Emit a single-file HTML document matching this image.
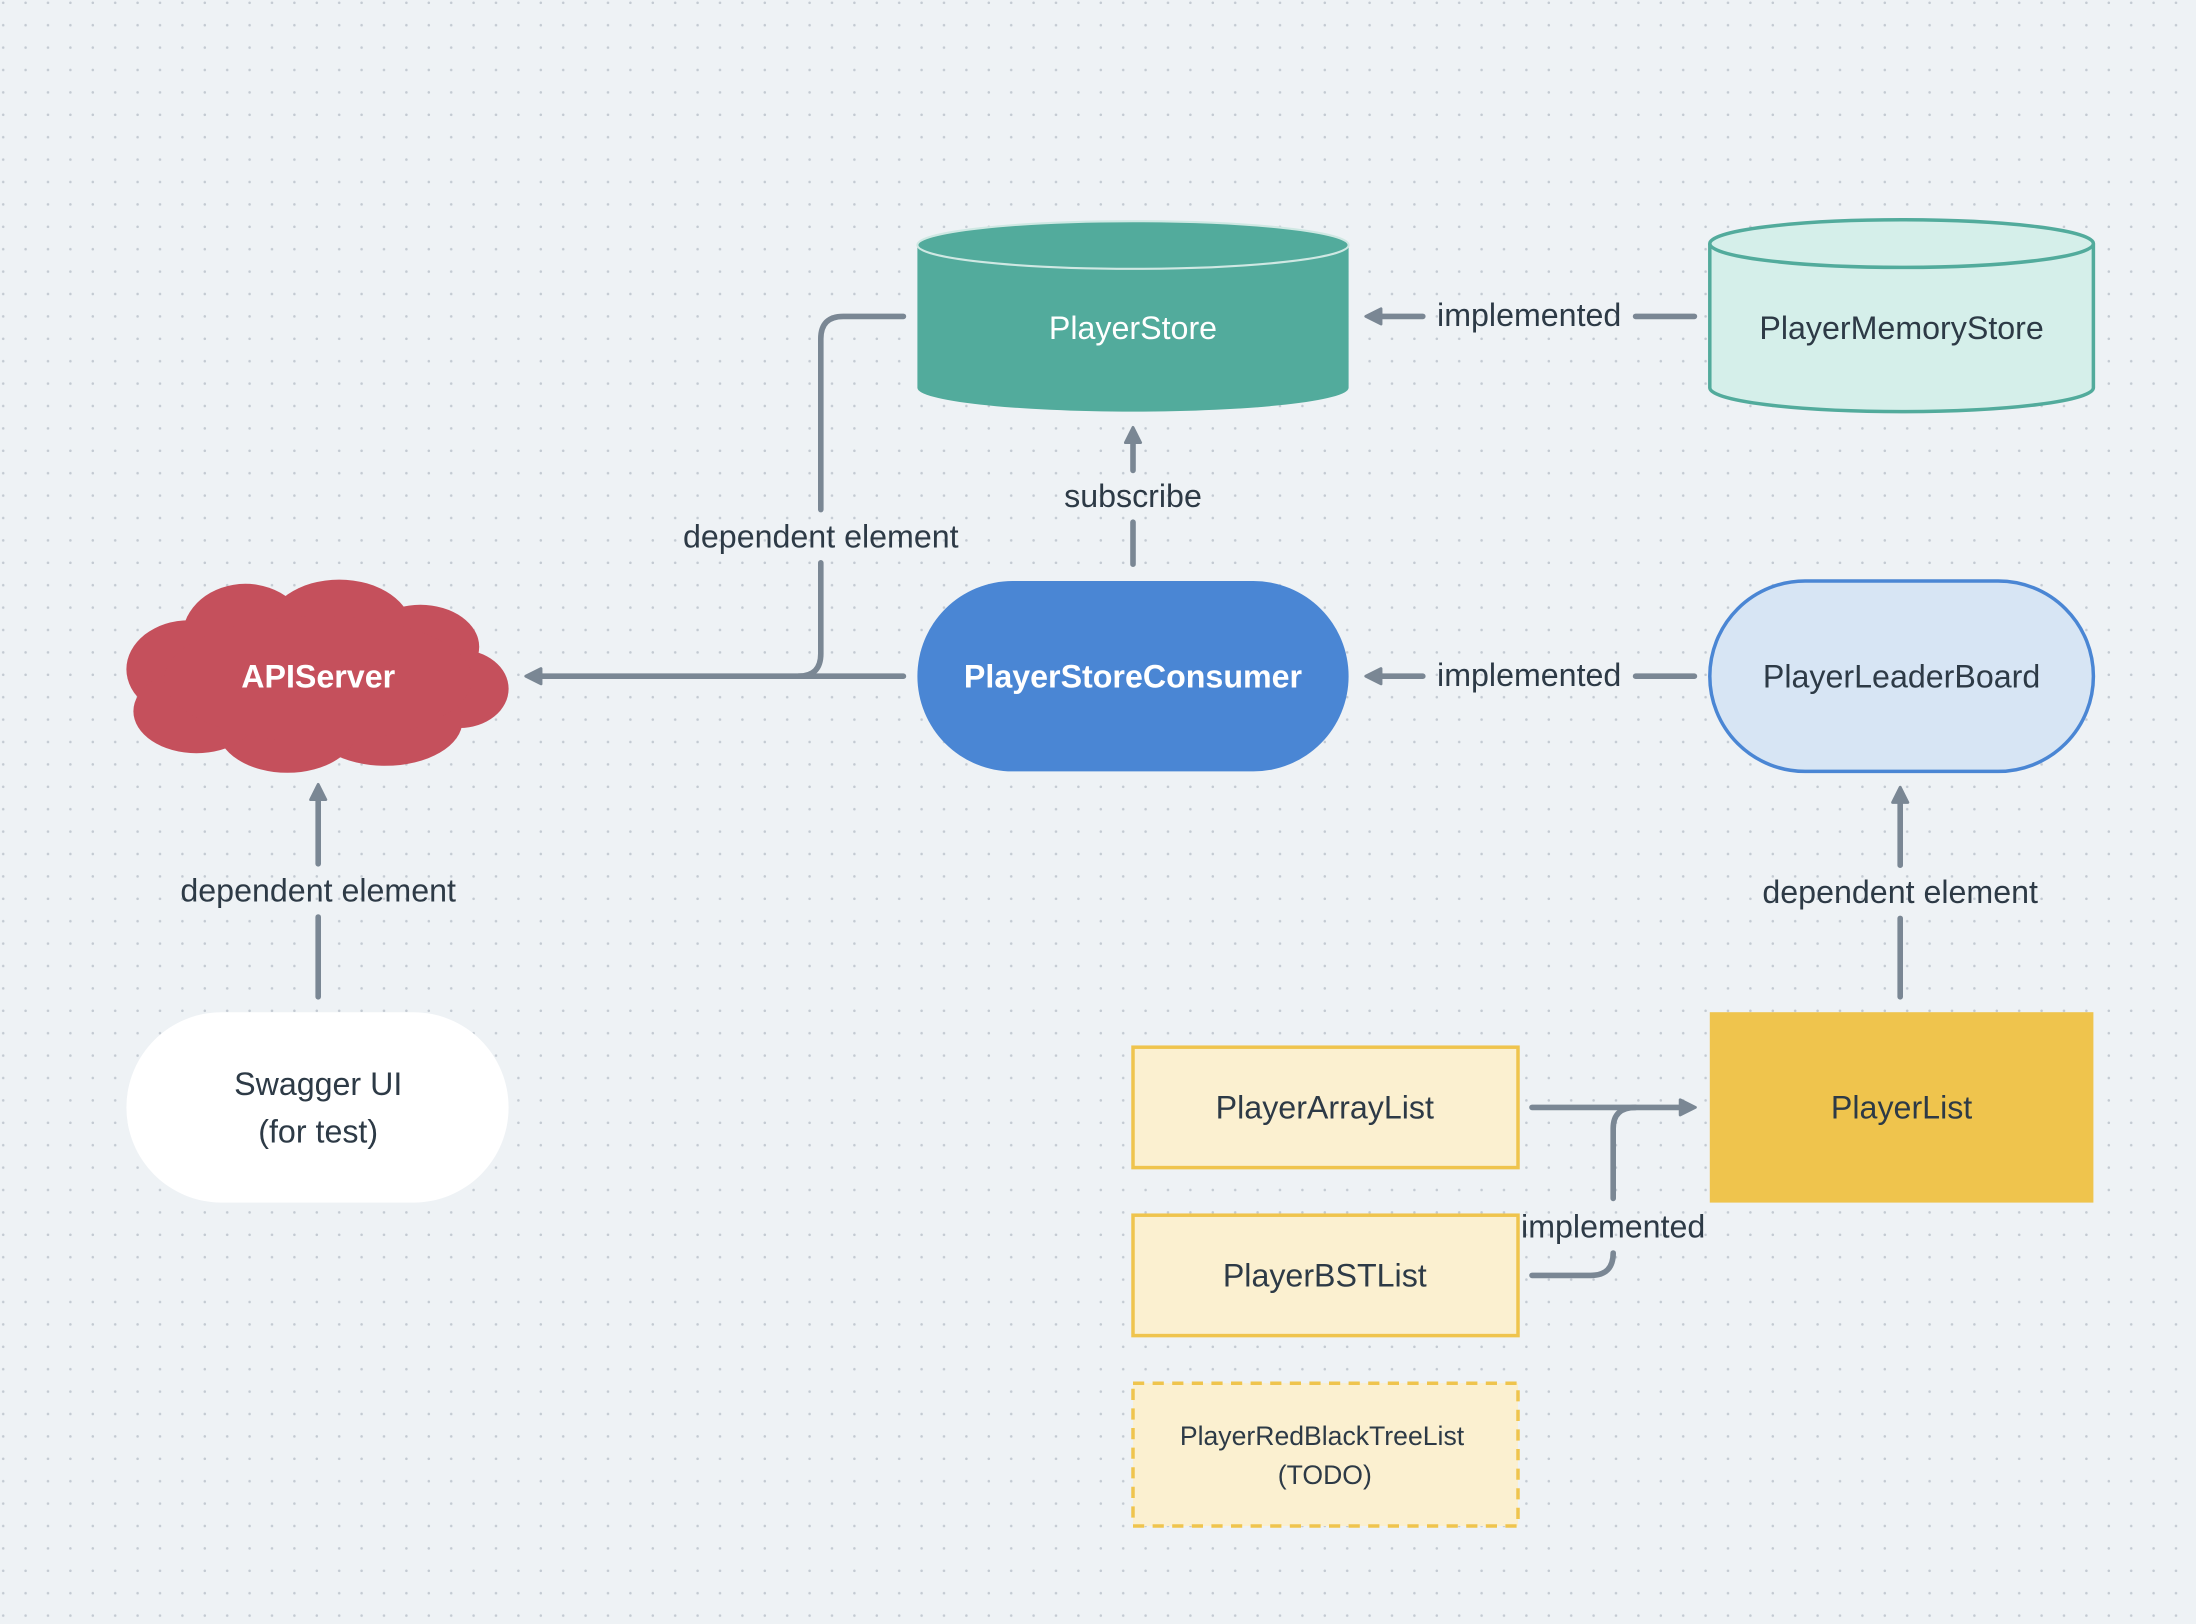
<!DOCTYPE html>
<html><head><meta charset="utf-8"><style>
html,body{margin:0;padding:0;background:#eef2f5;}
svg{display:block;}
text{font-family:"Liberation Sans","DejaVu Sans",sans-serif;}
</style></head><body>
<svg width="2196" height="1624" viewBox="0 0 1568 1160" xmlns="http://www.w3.org/2000/svg">
<defs>
<pattern id="dots" width="16" height="16" patternUnits="userSpaceOnUse">
<circle cx="2" cy="2" r="0.9" fill="#c3cad2"/>
</pattern>
<marker id="ar" viewBox="0 0 10 10" refX="7" refY="5" markerWidth="3.4" markerHeight="3.4" orient="auto">
<path d="M1,1 L9,5 L1,9 Z" fill="#7a8794" stroke="#7a8794" stroke-width="1.5" stroke-linejoin="round"/>
</marker>
</defs>
<rect width="1568" height="1160" fill="#eef2f5"/>
<rect width="1568" height="1160" fill="url(#dots)"/>

<g stroke="#7a8794" stroke-width="4" fill="none" stroke-linecap="round">
<line x1="1210" y1="226" x2="1168" y2="226"/>
<line x1="1016" y1="226" x2="978" y2="226" marker-end="url(#ar)"/>
<line x1="1210" y1="483" x2="1168" y2="483"/>
<line x1="1016" y1="483" x2="978" y2="483" marker-end="url(#ar)"/>
<line x1="809" y1="403" x2="809" y2="373"/>
<line x1="809" y1="336" x2="809" y2="308" marker-end="url(#ar)"/>
<line x1="645" y1="483" x2="378" y2="483" marker-end="url(#ar)"/>
<path d="M645,226 L602,226 Q586,226 586,242 L586,364"/>
<path d="M586,402 L586,467 Q586,483 570,483"/>
<line x1="227" y1="712" x2="227" y2="655"/>
<line x1="227" y1="617" x2="227" y2="563" marker-end="url(#ar)"/>
<line x1="1357" y1="712" x2="1357" y2="656"/>
<line x1="1357" y1="618" x2="1357" y2="565" marker-end="url(#ar)"/>
<line x1="1094" y1="791" x2="1208" y2="791" marker-end="url(#ar)"/>
<path d="M1152,856 L1152,806 Q1152,791 1168,791"/>
<path d="M1094,911 L1136,911 Q1152,911 1152,895"/>
</g>

<path d="M655,175 L655,277 A154,17 0 0 0 963,277 L963,175" fill="#52ab9c"/>
<ellipse cx="809" cy="175" rx="154" ry="17" fill="#52ab9c" stroke="#cfe8e3" stroke-width="1.5"/>
<text x="809" y="242" text-anchor="middle" font-size="23" fill="#fff" font-weight="bold" style="font-weight:500">PlayerStore</text>

<path d="M1221,174 L1221,277 A137,17 0 0 0 1495,277 L1495,174" fill="#d5efea" stroke="#52ab9c" stroke-width="2.5"/>
<ellipse cx="1358" cy="174" rx="137" ry="17" fill="#d5efea" stroke="#52ab9c" stroke-width="2.5"/>
<text x="1358" y="242" text-anchor="middle" font-size="23" fill="#2d3a46">PlayerMemoryStore</text>

<g fill="#c5505c">
<ellipse cx="135" cy="478" rx="45" ry="35"/>
<ellipse cx="175" cy="455" rx="45" ry="38"/>
<ellipse cx="242" cy="450" rx="52" ry="36"/>
<ellipse cx="300" cy="462" rx="42" ry="30"/>
<ellipse cx="328" cy="492" rx="35" ry="28"/>
<ellipse cx="275" cy="515" rx="55" ry="32"/>
<ellipse cx="205" cy="520" rx="50" ry="32"/>
<ellipse cx="140" cy="508" rx="45" ry="30"/>
<ellipse cx="227" cy="485" rx="110" ry="45"/>
</g>
<text x="227" y="491" text-anchor="middle" font-size="23" fill="#fff" font-weight="bold">APIServer</text>

<rect x="655" y="415" width="308" height="136" rx="68" fill="#4a86d4"/>
<text x="809" y="491" text-anchor="middle" font-size="23" fill="#fff" font-weight="bold">PlayerStoreConsumer</text>

<rect x="1221" y="415" width="274" height="136" rx="68" fill="#d7e5f4" stroke="#4a86d4" stroke-width="2.5"/>
<text x="1358" y="491" text-anchor="middle" font-size="23" fill="#2d3a46">PlayerLeaderBoard</text>

<rect x="90" y="723" width="273" height="136" rx="68" fill="#fff"/>
<text x="227" y="782" text-anchor="middle" font-size="23" fill="#2d3a46">Swagger UI</text>
<text x="227" y="816" text-anchor="middle" font-size="23" fill="#2d3a46">(for test)</text>

<rect x="1221" y="723" width="274" height="136" fill="#efc44d"/>
<text x="1358" y="799" text-anchor="middle" font-size="23" fill="#2d3a46">PlayerList</text>

<rect x="809" y="748" width="275" height="86" fill="#fbf0d0" stroke="#efc44d" stroke-width="2.5"/>
<text x="946" y="799" text-anchor="middle" font-size="23" fill="#2d3a46">PlayerArrayList</text>
<rect x="809" y="868" width="275" height="86" fill="#fbf0d0" stroke="#efc44d" stroke-width="2.5"/>
<text x="946" y="919" text-anchor="middle" font-size="23" fill="#2d3a46">PlayerBSTList</text>
<rect x="809" y="988" width="275" height="102" fill="#fbf0d0" stroke="#efc44d" stroke-width="2.5" stroke-dasharray="8,6"/>
<text x="944" y="1032" text-anchor="middle" font-size="19" fill="#2d3a46">PlayerRedBlackTreeList</text>
<text x="946" y="1060" text-anchor="middle" font-size="19" fill="#2d3a46">(TODO)</text>

<g font-size="23" fill="#2d3a46" text-anchor="middle">
<text x="1092" y="233">implemented</text>
<text x="1092" y="490">implemented</text>
<text x="809" y="362">subscribe</text>
<text x="586" y="391">dependent element</text>
<text x="227" y="644">dependent element</text>
<text x="1357" y="645">dependent element</text>
<text x="1152" y="884">implemented</text>
</g>
</svg>
</body></html>
